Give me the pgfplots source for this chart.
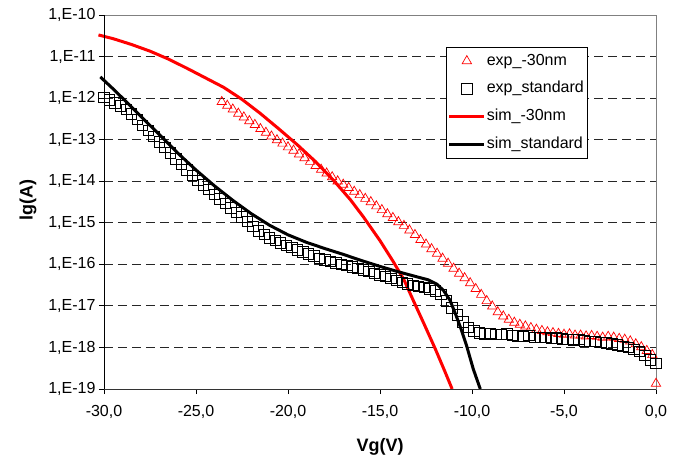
\documentclass[border=0pt]{standalone}
\usepackage{fontspec}
\setmainfont{Liberation Sans}
\usepackage{pgfplots}
\pgfplotsset{compat=1.18}
\begin{document}
\begin{tikzpicture}
\begin{axis}[
  at={(0pt,0pt)}, anchor=south west,
  scale only axis, width=552pt, height=374pt,
  xmin=-30, xmax=0, ymin=-19, ymax=-10,
  xtick={-30,-25,-20,-15,-10,-5,0},
  xticklabels={{-30,0},{-25,0},{-20,0},{-15,0},{-10,0},{-5,0},{0,0}},
  ytick={-19,-18,-17,-16,-15,-14,-13,-12,-11,-10},
  yticklabels={{1,E-19},{1,E-18},{1,E-17},{1,E-16},{1,E-15},{1,E-14},{1,E-13},{1,E-12},{1,E-11},{1,E-10}},
  tick pos=left, tick align=outside, major tick length=5pt,
  tick style={black, line width=0.8pt},
  ymajorgrids, grid style={dash pattern=on 9pt off 5pt, black!85, line width=0.8pt},
  axis line style={gray, line width=0.8pt},
  ticklabel style={font=\fontsize{16}{19}\selectfont},
  xticklabel style={yshift=-8pt},
  xlabel={\textbf{Vg(V)}}, ylabel={\textbf{lg(A)}},
  label style={font=\fontsize{18}{21}\selectfont},
  xlabel style={at={(axis description cs:0.5,-0.155)}, anchor=center},
  ylabel style={at={(axis description cs:-0.1377,0.505)}, anchor=center, rotate=0},
  clip=false,
  legend cell align=left,
  legend image code/.code={\draw[mark repeat=2,mark phase=2,#1] plot coordinates {(0pt,0pt) (17.5pt,0pt) (35pt,0pt)};},
  legend style={at={(rel axis cs:0.875,0.915)}, anchor=north east, draw=black, fill=white,
    font=\fontsize{16}{19}\selectfont, inner xsep=2pt, inner ysep=5pt, row sep=9.7pt,
    nodes={text height=12pt, text depth=4pt, inner sep=1pt},
    /tikz/every even column/.append style={column sep=1pt}},
]
% exp_-30nm
\addplot[only marks, mark=triangle, mark size=5.4pt, mark options={red, line width=0.7pt}] coordinates {
(-23.6,-12.09) (-23.3,-12.18) (-23.0,-12.27) (-22.7,-12.37) (-22.4,-12.46) (-22.1,-12.55)
(-21.8,-12.64) (-21.5,-12.74) (-21.2,-12.83) (-20.9,-12.92) (-20.6,-13.01) (-20.3,-13.09)
(-20.0,-13.18) (-19.7,-13.26) (-19.4,-13.35) (-19.1,-13.44) (-18.8,-13.53) (-18.5,-13.63)
(-18.2,-13.72) (-17.9,-13.81) (-17.6,-13.90) (-17.3,-14.00) (-17.0,-14.08) (-16.7,-14.16)
(-16.4,-14.25) (-16.1,-14.33) (-15.8,-14.42) (-15.5,-14.50) (-15.2,-14.60) (-14.9,-14.69)
(-14.6,-14.79) (-14.3,-14.88) (-14.0,-14.98) (-13.7,-15.07) (-13.4,-15.18) (-13.1,-15.29)
(-12.8,-15.41) (-12.5,-15.52) (-12.2,-15.63) (-11.9,-15.74) (-11.6,-15.86) (-11.3,-15.98)
(-11.0,-16.10) (-10.7,-16.22) (-10.4,-16.33) (-10.1,-16.45) (-9.8,-16.59) (-9.5,-16.73)
(-9.2,-16.88) (-8.9,-17.01) (-8.6,-17.15) (-8.3,-17.25) (-8.0,-17.33) (-7.7,-17.40)
(-7.4,-17.45) (-7.1,-17.49) (-6.8,-17.53) (-6.5,-17.57) (-6.2,-17.60) (-5.9,-17.63)
(-5.6,-17.65) (-5.3,-17.67) (-5.0,-17.69) (-4.7,-17.68) (-4.4,-17.71) (-4.1,-17.71)
(-3.8,-17.73) (-3.5,-17.72) (-3.2,-17.74) (-2.9,-17.76) (-2.6,-17.74) (-2.3,-17.76)
(-2.0,-17.79) (-1.7,-17.81) (-1.4,-17.85) (-1.1,-17.92) (-0.8,-17.99) (-0.5,-18.08)
(-0.2,-18.18) (0.0,-18.87)
};
\addlegendentry{exp\_-30nm}
% exp_standard
\addplot[only marks, mark=square, mark size=5.2pt, mark options={black, line width=0.7pt}] coordinates {
(-30.0,-11.98) (-29.7,-12.04) (-29.4,-12.11) (-29.1,-12.19) (-28.8,-12.27) (-28.5,-12.38)
(-28.2,-12.51) (-27.9,-12.65) (-27.6,-12.78) (-27.3,-12.92) (-27.0,-13.05) (-26.7,-13.19)
(-26.4,-13.32) (-26.1,-13.46) (-25.8,-13.59) (-25.5,-13.73) (-25.2,-13.86) (-24.9,-13.98)
(-24.6,-14.09) (-24.3,-14.20) (-24.0,-14.31) (-23.7,-14.42) (-23.4,-14.53) (-23.1,-14.64)
(-22.8,-14.75) (-22.5,-14.86) (-22.2,-14.97) (-21.9,-15.08) (-21.6,-15.19) (-21.3,-15.28)
(-21.0,-15.36) (-20.7,-15.42) (-20.4,-15.48) (-20.1,-15.54) (-19.8,-15.59) (-19.5,-15.65)
(-19.2,-15.70) (-18.9,-15.75) (-18.6,-15.80) (-18.3,-15.85) (-18.0,-15.89) (-17.7,-15.93)
(-17.4,-15.96) (-17.1,-16.00) (-16.8,-16.03) (-16.5,-16.06) (-16.2,-16.09) (-15.9,-16.13)
(-15.6,-16.17) (-15.3,-16.21) (-15.0,-16.25) (-14.7,-16.29) (-14.4,-16.34) (-14.1,-16.39)
(-13.8,-16.43) (-13.5,-16.47) (-13.2,-16.50) (-12.9,-16.53) (-12.6,-16.56) (-12.3,-16.59)
(-12.0,-16.64) (-11.7,-16.72) (-11.4,-16.88) (-11.1,-17.05) (-10.8,-17.22) (-10.5,-17.38)
(-10.2,-17.52) (-9.9,-17.60) (-9.6,-17.65) (-9.3,-17.67) (-9.0,-17.66) (-8.7,-17.68)
(-8.4,-17.69) (-8.1,-17.67) (-7.8,-17.71) (-7.5,-17.72) (-7.2,-17.73) (-6.9,-17.71)
(-6.6,-17.75) (-6.3,-17.76) (-6.0,-17.75) (-5.7,-17.78) (-5.4,-17.77) (-5.1,-17.79)
(-4.8,-17.80) (-4.5,-17.82) (-4.2,-17.81) (-3.9,-17.84) (-3.6,-17.85) (-3.3,-17.86)
(-3.0,-17.88) (-2.7,-17.89) (-2.4,-17.91) (-2.1,-17.94) (-1.8,-17.97) (-1.5,-18.00)
(-1.2,-18.04) (-0.9,-18.10) (-0.6,-18.19) (-0.3,-18.30) (0.0,-18.38)
};
\addlegendentry{exp\_standard}
% sim_-30nm
\addplot[red, line width=3pt, line join=round, no marks] coordinates {
(-30.3,-10.48) (-29.5,-10.57) (-28.5,-10.71) (-27.5,-10.87) (-26.5,-11.06) (-25.5,-11.28)
(-24.5,-11.51) (-23.5,-11.74) (-22.5,-12.03) (-21.5,-12.37) (-20.5,-12.74) (-19.5,-13.12)
(-18.5,-13.53) (-17.5,-13.99) (-16.6,-14.45) (-15.9,-14.86) (-15.0,-15.43) (-14.3,-15.92)
(-13.7,-16.37) (-13.2,-16.86) (-12.6,-17.44) (-12.0,-18.03) (-11.5,-18.55) (-11.08,-19.0)
};
\addlegendentry{sim\_-30nm}
% sim_standard
\addplot[black, line width=3pt, line join=round, no marks] coordinates {
(-30.2,-11.49) (-29.5,-11.78) (-28.9,-12.04) (-27.9,-12.48) (-26.9,-12.92) (-26.0,-13.32)
(-25.0,-13.73) (-24.0,-14.11) (-23.0,-14.46) (-22.0,-14.78) (-21.0,-15.06) (-20.0,-15.29)
(-19.0,-15.47) (-18.0,-15.62) (-17.0,-15.76) (-16.0,-15.91) (-15.0,-16.05) (-14.0,-16.18)
(-13.0,-16.30) (-12.4,-16.37) (-11.9,-16.48) (-11.55,-16.63) (-11.2,-16.86) (-10.9,-17.19)
(-10.6,-17.55) (-10.3,-17.95) (-9.93,-18.52) (-9.55,-19.0)
};
\addlegendentry{sim\_standard}
\draw[black, line width=0.9pt] (rel axis cs:0,0) -- (rel axis cs:0,1);
\draw[black!80, line width=0.9pt] (rel axis cs:0,0) -- (rel axis cs:1,0);
\end{axis}
\pgfresetboundingbox
\path[use as bounding box] (-104pt,-72pt) rectangle (573pt,389pt);
\end{tikzpicture}
\end{document}
